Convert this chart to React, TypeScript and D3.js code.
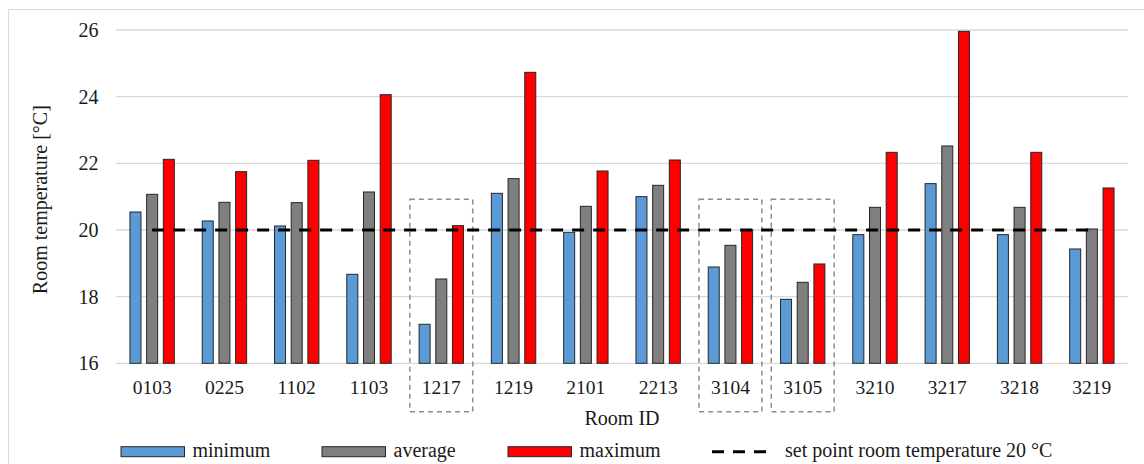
import React from 'react';
import * as d3 from 'd3';

// room IDs and measured temperatures (°C)
const rooms = ['0103', '0225', '1102', '1103', '1217', '1219', '2101', '2213', '3104', '3105', '3210', '3217', '3218', '3219'];
const minimum = [20.54, 20.27, 20.12, 18.67, 17.17, 21.1, 19.93, 21.0, 18.89, 17.92, 19.86, 21.39, 19.86, 19.43];
const average = [21.07, 20.83, 20.82, 21.14, 18.53, 21.54, 20.71, 21.34, 19.54, 18.43, 20.68, 22.52, 20.68, 20.03];
const maximum = [22.12, 21.75, 22.09, 24.06, 20.13, 24.73, 21.77, 22.1, 20.01, 18.98, 22.33, 25.96, 22.33, 21.26];
const setPoint = 20;
const yTicks = [16, 18, 20, 22, 24, 26];
const highlighted = ['1217', '3104', '3105'];
const highlightTop = 20.92;

const seriesNames = ['minimum', 'average', 'maximum'];
const seriesValues = [minimum, average, maximum];
const seriesColors = ['#5b9bd5', '#7f7f7f', '#ff0000'];
const setPointLabel = 'set point room temperature 20 °C';

const W = 1144;
const H = 464;
const left = 116;
const right = 1128;
const top = 30;
const bottom = 363.3;
const legendX = [121, 322, 508, 712];
const txt = { fontFamily: '"Liberation Serif"', fill: '#1a1a1a' };

export default function App() {
  const x0 = d3.scaleBand<string>().domain(rooms).range([left, right]).paddingInner(0.386).paddingOuter(0.193);
  const x1 = d3.scaleBand<string>().domain(seriesNames).range([0, x0.bandwidth()]).paddingInner(0.34);
  const y = d3.scaleLinear().domain([16, 26]).range([bottom, top]);
  const boxW = x0.step() * 0.87;

  const firstC = (x0(rooms[0]) as number) + x0.bandwidth() / 2;
  const lastC = (x0(rooms[rooms.length - 1]) as number) + x0.bandwidth() / 2;

  return (
    <svg width={W} height={H} style={{ position: 'absolute', left: 0, top: 0, background: '#fff' }}>
      <rect x={8.5} y={9.5} width={1160} height={480} fill="#fff" stroke="#d9d9d9" strokeWidth={1} />
      {yTicks.map((t) => (
        <g key={t}>
          <line x1={left} x2={right} y1={y(t)} y2={y(t)} stroke="#d9d9d9" strokeWidth={1.3} />
          <text x={98.5} y={y(t)} dy="0.35em" textAnchor="end" fontSize={20} style={txt}>{t}</text>
        </g>
      ))}
      {highlighted.map((r) => {
        const cx = (x0(r) as number) + x0.bandwidth() / 2;
        return (
          <rect key={r} x={cx - boxW / 2} y={y(highlightTop)} width={boxW} height={411.7 - y(highlightTop)}
            fill="none" stroke="#8c8c8c" strokeWidth={1.5} strokeDasharray="5,4" />
        );
      })}
      {rooms.map((r, i) => (
        <g key={r}>
          {seriesNames.map((s, k) => {
            const v = seriesValues[k][i];
            return (
              <rect key={s} x={(x0(r) as number) + (x1(s) as number)} y={y(v)} width={x1.bandwidth()} height={y(16) - y(v)}
                fill={seriesColors[k]} stroke="#262626" strokeWidth={1} />
            );
          })}
          <text x={(x0(r) as number) + x0.bandwidth() / 2} y={394} textAnchor="middle" fontSize={19.5} style={txt}>{r}</text>
        </g>
      ))}
      <line x1={firstC} x2={lastC} y1={y(setPoint)} y2={y(setPoint)} stroke="#000" strokeWidth={3} strokeDasharray="12,9" />
      <text x={(left + right) / 2} y={425} textAnchor="middle" fontSize={20} style={txt}>Room ID</text>
      <text transform={`translate(46.5, ${(top + bottom) / 2 + 3}) rotate(-90)`} textAnchor="middle" fontSize={20} style={txt}>
        Room temperature [°C]
      </text>
      {seriesNames.map((s, k) => (
        <g key={s}>
          <rect x={legendX[k]} y={446.7} width={63.5} height={10} fill={seriesColors[k]} stroke="#262626" strokeWidth={1} />
          <text x={legendX[k] + 71.5} y={457.3} fontSize={20} style={txt}>{s}</text>
        </g>
      ))}
      <line x1={legendX[3]} x2={legendX[3] + 57} y1={451.7} y2={451.7} stroke="#000" strokeWidth={3} strokeDasharray="12,9" />
      <text x={legendX[3] + 73} y={457.3} fontSize={20} style={txt}>{setPointLabel}</text>
    </svg>
  );
}
